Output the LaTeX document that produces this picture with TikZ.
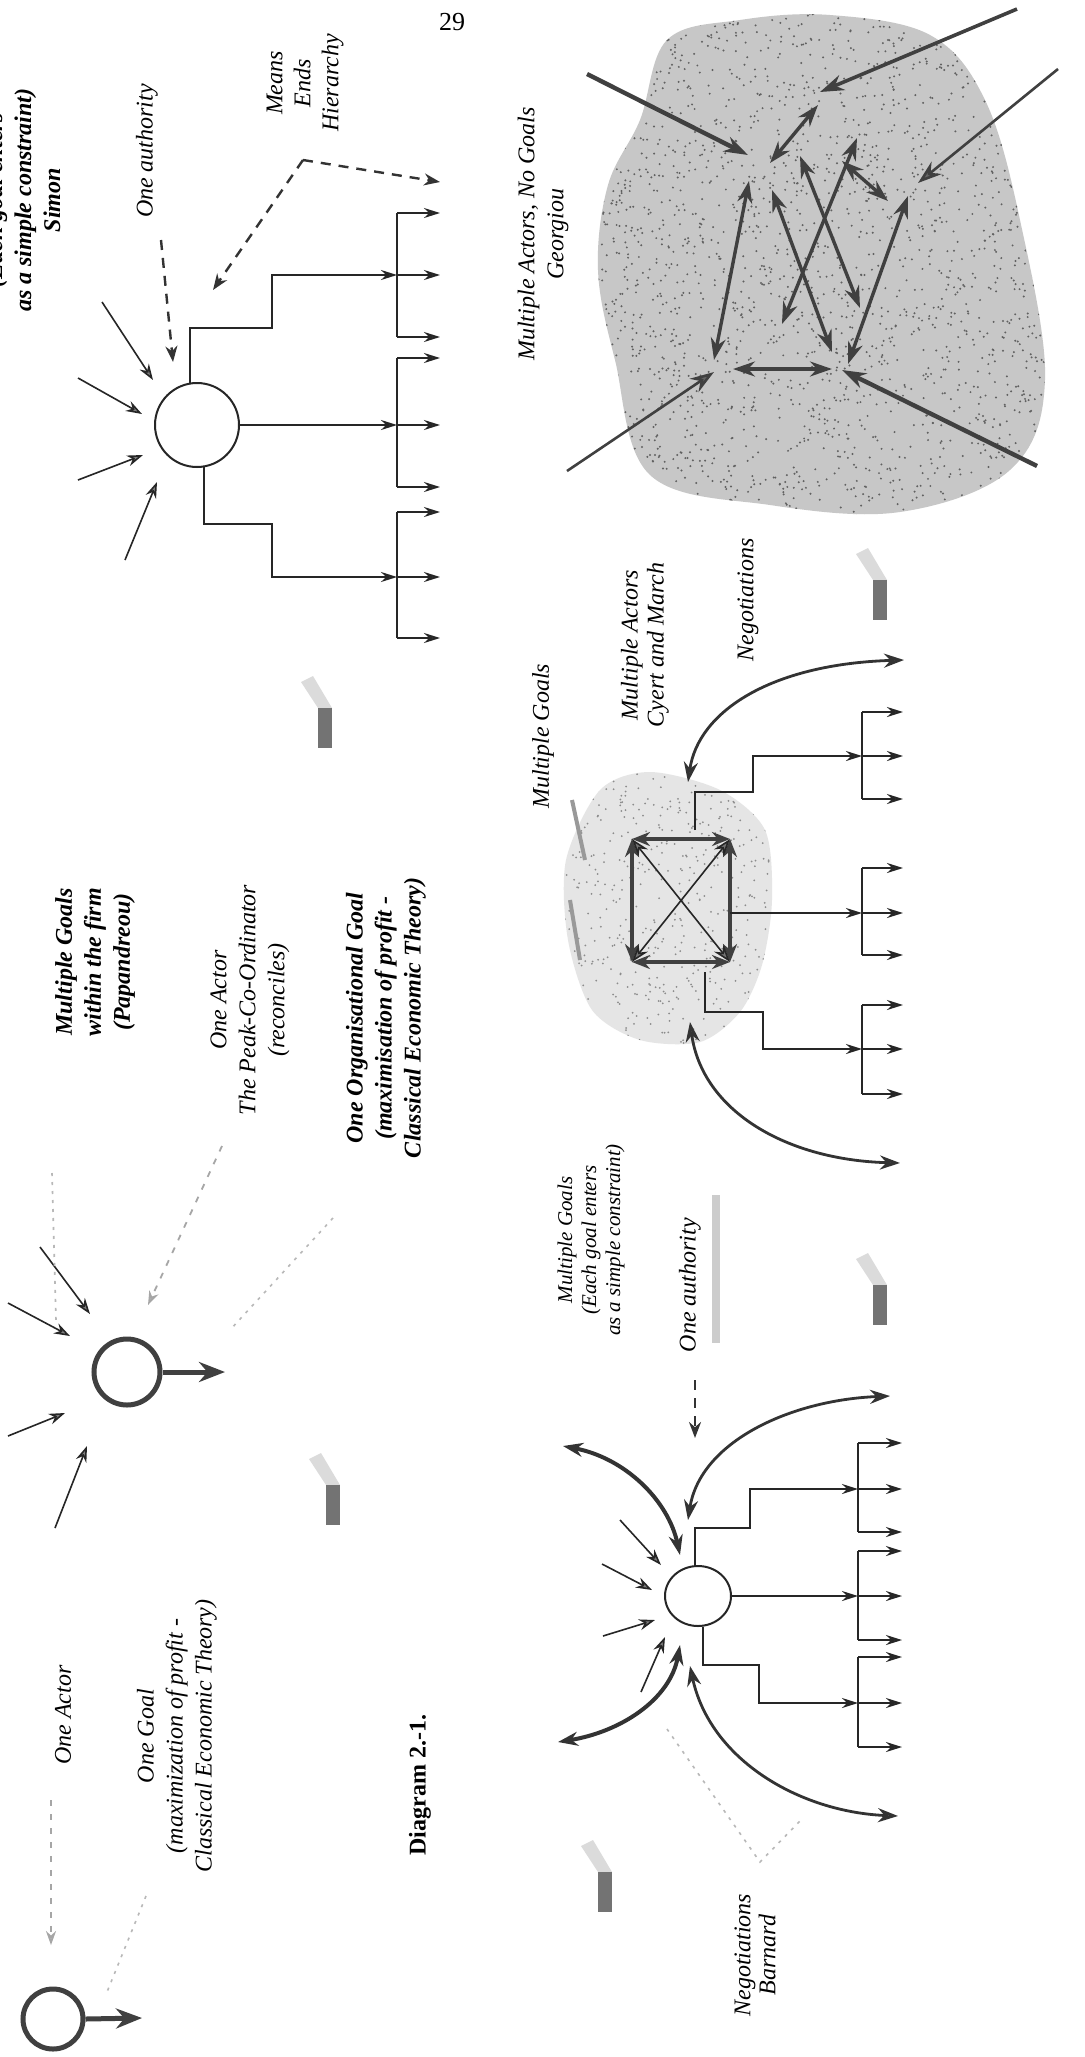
\documentclass[tikz,border=0pt]{standalone}
\usepackage{fontspec}
\setmainfont{Liberation Serif}
\usetikzlibrary{arrows.meta,shapes.geometric}
\tikzset{
  lbl/.style={rotate=90, align=center, inner sep=0pt, font=\fontsize{12}{14.5}\selectfont\itshape},
  lblbf/.style={lbl, font=\fontsize{12}{14.5}\selectfont\bfseries\itshape},
  thinarr/.style={draw=black!85, line width=0.8pt, -{Stealth[length=8pt,width=5.5pt,fill=black!50]}},
  treeln/.style={draw=black!85, line width=1pt},
  treearr/.style={treeln, -{Stealth[length=8pt,width=5pt,fill=black!50]}},
  bigarr/.style={draw=black!75, line width=2.5pt, -{Stealth[length=13pt,width=10pt,fill=black!55]}},
  ring/.style={circle, draw=black!75, line width=2.5pt, inner sep=0pt},
  gsingle/.style={draw=black!75, line width=1.8pt, -{Stealth[length=12pt,width=8pt,fill=black!60]}},
  gdouble/.style={draw=black!75, line width=1.7pt, {Stealth[length=11pt,width=7.5pt,fill=black!60]}-{Stealth[length=11pt,width=7.5pt,fill=black!60]}},
  curvearr/.style={draw=black!80, line width=1.4pt, {Stealth[length=10pt,width=7pt,fill=black!55]}-{Stealth[length=10pt,width=7pt,fill=black!55]}},
  sqside/.style={draw=black!75, line width=1.8pt, {Stealth[length=9pt,width=7pt,fill=black!55]}-{Stealth[length=9pt,width=7pt,fill=black!55]}},
  sqdiag/.style={draw=black!85, line width=0.8pt, {Stealth[length=9pt,width=6pt,fill=black!55]}-{Stealth[length=9pt,width=6pt,fill=black!55]}},
  dasharr/.style={draw=black!80, line width=1.2pt, dash pattern=on 5pt off 4pt, -{Stealth[length=8pt,width=6pt,fill=black!50]}},
  fadedash/.style={draw=black!35, line width=0.9pt, dash pattern=on 3pt off 4pt, -{Stealth[length=7pt,width=5pt,fill=black!25,color=black!35]}},
  faint/.style={draw=black!28, line width=0.8pt, dash pattern=on 1.5pt off 3pt},
  stampmark/.pic={
    \fill[black!14] (-7,-20) -- (-24,-46) -- (-12,-52) -- (7,-20) -- cycle;
    \fill[black!55] (-7,-20) rectangle (7,20);
  },
}
\begin{document}
\begin{tikzpicture}[x=0.5pt,y=-0.5pt]
\useasboundingbox (0,0) rectangle (1084,2057);
\fill[white] (0,0) rectangle (1084,2057);
\pgfmathsetseed{4242}

% ---------------- backgrounds (stippled areas) ----------------
\def\blobB{(667,40) (740,20) (830,15) (930,35) (985,100) (1020,220) (1045,380) (1010,470) (900,512) (770,505) (650,475) (615,360) (598,270) (608,185) (640,120)}
\fill[black!22] plot[smooth cycle, tension=0.6] coordinates {\blobB};
\begin{scope}
  \clip plot[smooth cycle, tension=0.6] coordinates {\blobB};
  \foreach \i in {1,...,2200}{
    \pgfmathsetmacro\rx{595+455*rnd}
    \pgfmathsetmacro\ry{12+505*rnd}
    \fill[black!62] (\rx,\ry) circle[radius=1.1];
  }
\end{scope}
\def\blobD{(600,790) (650,772) (720,790) (765,830) (772,900) (762,965) (740,1012) (700,1042) (640,1040) (592,1010) (568,940) (566,860)}
\fill[black!10] plot[smooth cycle] coordinates {\blobD};
\begin{scope}
  \clip plot[smooth cycle] coordinates {\blobD};
  \foreach \i in {1,...,500}{
    \pgfmathsetmacro\rx{565+210*rnd}
    \pgfmathsetmacro\ry{770+275*rnd}
    \fill[black!45] (\rx,\ry) circle[radius=1];
  }
\end{scope}
\draw[black!40, line width=2pt] (572,800) -- (585,860);
\draw[black!40, line width=2pt] (570,900) -- (580,960);
\fill[black!20] (712,1195) rectangle (720,1343);

% scan marks
\pic at (325,728) {stampmark};
\pic at (880,600) {stampmark};
\pic at (880,1305) {stampmark};
\pic at (333,1505) {stampmark};
\pic at (605,1892) {stampmark};

% ---------------- page number ----------------
\node[font=\fontsize{13}{15}\selectfont, inner sep=0pt] (pnum) at (452,22) {29};

% ================= Panel A : Simon =================
\node[lblbf] (simonlbl) at (23,200) {(Each goal enters\\as a simple constraint)\\Simon};
\node[lbl] (oneauthA) at (147,151) {One authority};
\node[lbl, font=\fontsize{12}{14}\selectfont\itshape] (meansA) at (305,83) {Means\\Ends\\Hierarchy};

\node[circle, draw=black!85, line width=1pt, minimum size=42pt, inner sep=0pt] (simon) at (197,425) {};

\coordinate (sa1) at (102,302); \coordinate (sa1t) at (153,380);
\coordinate (sa2) at (78,378);  \coordinate (sa2t) at (142,414);
\coordinate (sa3) at (78,480);  \coordinate (sa3t) at (143,455);
\coordinate (sa4) at (125,560); \coordinate (sa4t) at (157,482);
\foreach \s in {sa1,sa2,sa3,sa4} \draw[thinarr] (\s) -- (\s t);

\coordinate (authAs) at (161,240); \coordinate (authAt) at (173,362);
\draw[dasharr] (authAs) -- (authAt);
\coordinate (meV) at (303,160); \coordinate (meT1) at (213,290); \coordinate (meT2) at (440,182);
\draw[dasharr] (meV) -- (meT1);
\draw[dasharr] (meV) -- (meT2);

% tree groups (bars and outgoing arrows)
\foreach \nm/\bx/\tx/\ya/\yb/\yc in {A1/397/440/213/275/337, A2/397/440/358/425/487, A3/397/440/512/577/638,
                                   D1/862/903/712/756/799, D2/862/903/868/913/955, D3/862/903/1005/1049/1094,
                                   F1/858/902/1443/1489/1532, F2/858/902/1551/1596/1640, F3/858/902/1657/1703/1747}{
  \coordinate (\nm-bt) at (\bx,\ya); \coordinate (\nm-bm) at (\bx,\yb); \coordinate (\nm-bb) at (\bx,\yc);
  \coordinate (\nm-tt) at (\tx,\ya); \coordinate (\nm-tm) at (\tx,\yb); \coordinate (\nm-tb) at (\tx,\yc);
  \draw[treeln] (\nm-bt) -- (\nm-bb);
  \draw[treearr] (\nm-bt) -- (\nm-tt);
  \draw[treearr] (\nm-bm) -- (\nm-tm);
  \draw[treearr] (\nm-bb) -- (\nm-tb);
}
\draw[treearr] (simon.100) |- (272,328) -- (272,275) -- (A1-bm);
\draw[treearr] (simon.east) -- (A2-bm);
\draw[treearr] (simon.-80) |- (272,524) -- (272,577) -- (A3-bm);

% ================= Panel B : Georgiou =================
\node[lbl] (georglbl) at (543,234) {Multiple Actors, No Goals\\Georgiou};
\coordinate (ga1) at (587,74);   \coordinate (ga1t) at (748,155);
\coordinate (ga2) at (1017,9);   \coordinate (ga2t) at (820,92);
\coordinate (ga3) at (1058,69);  \coordinate (ga3t) at (918,183);
\coordinate (ga4) at (567,471);  \coordinate (ga4t) at (714,372);
\coordinate (ga5) at (1037,466); \coordinate (ga5t) at (842,370);
\draw[gsingle, line width=2.2pt] (ga1) -- (ga1t);
\draw[gsingle] (ga2) -- (ga2t);
\draw[gsingle, line width=1.3pt] (ga3) -- (ga3t);
\draw[gsingle, line width=1.3pt] (ga4) -- (ga4t);
\draw[gsingle, line width=2.2pt] (ga5) -- (ga5t);
\foreach \n/\ax/\ay/\bx/\by in {b1/770/163/818/105, b2/749/181/714/360, b3/733/369/832/369, b4/772/190/832/352,
                               b5/800/156/860/308, b6/857/138/782/324, b7/842/161/888/201, b8/908/196/848/364}{
  \coordinate (g\n a) at (\ax,\ay); \coordinate (g\n b) at (\bx,\by);
  \draw[gdouble] (g\n a) -- (g\n b);
}

% ================= Panel C : Papandreou =================
\node[lblbf] (papalbl) at (95,962) {Multiple Goals\\within the firm\\(Papandreou)};
\node[lbl] (peaklbl) at (250,1000) {One Actor\\The Peak-Co-Ordinator\\(reconciles)};
\node[lblbf] (orglbl) at (386,1018) {One Organisational Goal\\(maximisation of profit -\\Classical Economic Theory)};
\node[ring, minimum size=33pt] (papa) at (127,1372) {};
\coordinate (papaT) at (225,1372);
\draw[bigarr] (papa.east) -- (papaT);
\coordinate (pc1) at (40,1247);  \coordinate (pc1t) at (90,1314);
\coordinate (pc2) at (8,1303);   \coordinate (pc2t) at (70,1336);
\coordinate (pc3) at (8,1436);   \coordinate (pc3t) at (65,1413);
\coordinate (pc4) at (55,1528);  \coordinate (pc4t) at (87,1446);
\foreach \s in {pc1,pc2,pc3,pc4} \draw[thinarr] (\s) -- (\s t);
\coordinate (pdS) at (222,1146); \coordinate (pdT) at (148,1305);
\draw[fadedash] (pdS) -- (pdT);
\coordinate (pf1) at (52,1173); \coordinate (pf2) at (56,1320);
\draw[faint] (pf1) -- (pf2);
\coordinate (pf3) at (333,1218); \coordinate (pf4) at (230,1330);
\draw[faint] (pf3) -- (pf4);

% ================= Panel E : One Actor =================
\node[lbl] (oneactor) at (63,1715) {One Actor};
\node[lbl] (onegoal) at (177,1736) {One Goal\\(maximization of profit -\\Classical Economic Theory)};
\node[rotate=90, inner sep=0pt, font=\fontsize{12}{14}\selectfont\bfseries] (diag) at (420,1785) {Diagram 2.-1.};
\node[ring, minimum size=30pt] (actor) at (53,2019) {};
\coordinate (actorT) at (142,2018);
\draw[bigarr] (actor.east) -- (actorT);
\coordinate (eaS) at (51,1800); \coordinate (eaT) at (51,1945);
\draw[fadedash] (eaS) -- (eaT);
\coordinate (ef1) at (146,1896); \coordinate (ef2) at (107,1992);
\draw[faint] (ef1) -- (ef2);

% ================= Panel D : Cyert and March =================
\node[lbl] (dgoals) at (543,736) {Multiple Goals};
\node[lbl, font=\fontsize{12}{13}\selectfont\itshape] (dactors) at (645,645) {Multiple Actors\\Cyert and March};
\node[lbl] (dneg) at (748,600) {Negotiations};
\coordinate (sqTL) at (632,839); \coordinate (sqTR) at (730,839);
\coordinate (sqBR) at (730,962); \coordinate (sqBL) at (632,962);
\draw[sqside] (sqTL) -- (sqTR);
\draw[sqside] (sqTR) -- (sqBR);
\draw[sqside] (sqBR) -- (sqBL);
\draw[sqside] (sqBL) -- (sqTL);
\draw[sqdiag] (sqTL) -- (sqBR);
\draw[sqdiag] (sqTR) -- (sqBL);
\coordinate (dtop) at (695,830);
\coordinate (dmid) at (730,913);
\coordinate (dbot) at (705,972);
\draw[treearr] (dtop) |- (753,792) -- (753,756) -- (D1-bm);
\draw[treearr] (dmid) -- (D2-bm);
\draw[treearr] (dbot) |- (763,1012) -- (763,1049) -- (D3-bm);
\coordinate (dcu1) at (688,782); \coordinate (dcu2) at (904,660);
\draw[curvearr] (dcu1) .. controls (698,712) and (770,664) .. (dcu2);
\coordinate (dcl1) at (690,1022); \coordinate (dcl2) at (900,1163);
\draw[curvearr] (dcl1) .. controls (702,1110) and (785,1160) .. (dcl2);

% ================= Panel F : Barnard =================
\node[lbl, font=\fontsize{10.5}{12}\selectfont\itshape] (fgoals) at (591,1240) {Multiple Goals\\(Each goal enters\\as a simple constraint)};
\node[lbl] (oneauthF) at (690,1285) {One authority};
\node[lbl, font=\fontsize{12}{12.5}\selectfont\itshape] (barnlbl) at (755,1955) {Negotiations\\Barnard};
\node[ellipse, draw=black!85, line width=1pt, minimum width=33pt, minimum height=30pt, inner sep=0pt] (barn) at (698,1596) {};
\coordinate (authFs) at (695,1380); \coordinate (authFt) at (695,1438);
\draw[dasharr] (authFs) -- (authFt);
\coordinate (fa1) at (620,1520); \coordinate (fa1t) at (661,1565);
\coordinate (fa2) at (602,1564); \coordinate (fa2t) at (652,1590);
\coordinate (fa3) at (603,1636); \coordinate (fa3t) at (655,1620);
\coordinate (fa4) at (641,1692); \coordinate (fa4t) at (665,1637);
\foreach \s in {fa1,fa2,fa3,fa4} \draw[thinarr] (\s) -- (\s t);
\coordinate (fcul) at (563,1446); \coordinate (fcule) at (680,1555);
\draw[curvearr, line width=2pt] (fcul) .. controls (625,1458) and (668,1500) .. (fcule);
\coordinate (fcll) at (558,1742); \coordinate (fclle) at (680,1645);
\draw[curvearr, line width=2pt] (fcll) .. controls (620,1732) and (670,1700) .. (fclle);
\coordinate (fcur) at (688,1520); \coordinate (fcure) at (890,1396);
\draw[curvearr] (fcur) .. controls (700,1442) and (790,1400) .. (fcure);
\coordinate (fclr) at (690,1666); \coordinate (fclre) at (898,1816);
\draw[curvearr] (fclr) .. controls (710,1760) and (800,1812) .. (fclre);
\draw[treearr] (barn.95) |- (750,1528) -- (750,1489) -- (F1-bm);
\draw[treearr] (barn.east) -- (F2-bm);
\draw[treearr] (barn.-80) |- (759,1665) -- (759,1703) -- (F3-bm);
\coordinate (ff1) at (667,1729); \coordinate (ff2) at (760,1862); \coordinate (ff3) at (800,1821);
\draw[faint] (ff1) -- (ff2) -- (ff3);

\end{tikzpicture}
\end{document}
